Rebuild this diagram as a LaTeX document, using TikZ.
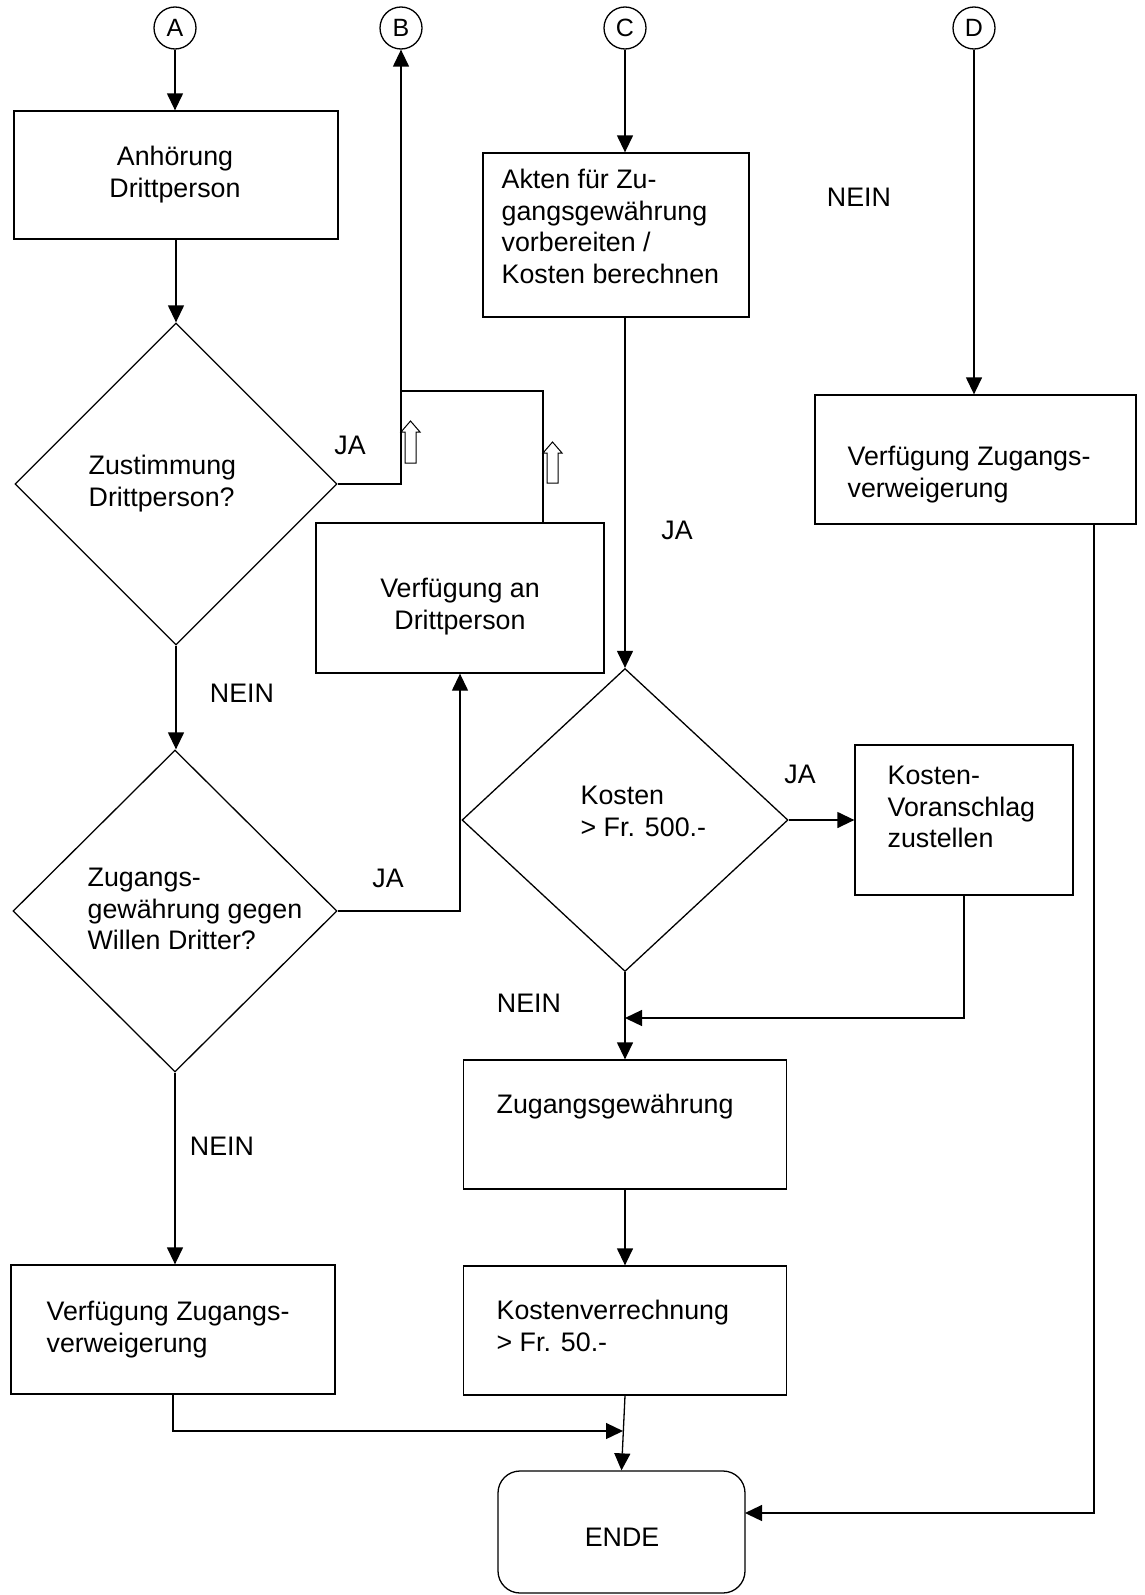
\documentclass[tikz,border=0pt]{standalone}
\usepackage{fontspec}
\setmainfont{Liberation Sans}
\usetikzlibrary{arrows.meta,shapes.geometric}
\begin{document}
\begin{tikzpicture}[x=1pt,y=-1pt,
  line width=1.3pt,
  every node/.style={font=\fontsize{26.8}{31.5}\selectfont},
  box/.style={draw, rectangle, inner sep=0pt},
  dia/.style={draw, diamond, inner sep=0pt},
  circ/.style={draw, circle, minimum size=42pt, inner sep=0pt, font=\fontsize{25}{28}\selectfont},
  txt/.style={inner sep=0pt, align=left, anchor=north west},
  ctxt/.style={inner sep=0pt, align=center, anchor=north},
  lbl/.style={inner sep=0pt, anchor=base},
  arr/.style={-{Triangle[length=17pt,width=16pt]}},
  hollow/.style={draw, line width=1pt}
]
\useasboundingbox (0,0) rectangle (1145,1595);

% connector circles
\node[circ] (A) at (175,28) {A};
\node[circ] (B) at (401,28) {B};
\node[circ] (C) at (625,28) {C};
\node[circ] (D) at (974,28) {D};

% shapes
\node[box, minimum width=324pt, minimum height=128pt] (anh) at (176,175) {};
\node[dia, minimum width=322pt, minimum height=322pt] (d1) at (176,484) {};
\node[box, minimum width=288pt, minimum height=150pt] (vad) at (460,598) {};
\node[dia, minimum width=324pt, minimum height=322pt] (d2) at (175,911) {};
\node[box, minimum width=266pt, minimum height=164pt] (akt) at (616,235) {};
\node[dia, minimum width=326pt, minimum height=303pt] (d3) at (625,820) {};
\node[box, minimum width=218pt, minimum height=150pt] (kv) at (964,820) {};
\node[box, minimum width=321pt, minimum height=129pt] (dv) at (975.5,459.5) {};
\node[box, minimum width=323pt, minimum height=129pt] (zg) at (625,1124.5) {};
\node[box, minimum width=323pt, minimum height=129pt] (kr) at (625,1330.5) {};
\node[box, minimum width=324pt, minimum height=129pt] (lv) at (173,1329.5) {};
\node[box, rounded corners=22pt, minimum width=247pt, minimum height=122pt] (ende) at (621.5,1532) {};

% texts
\node[ctxt] (tanh) at (175,143) {\strut Anhörung\\Drittperson};
\node[txt] (td1) at (88,452) {\strut Zustimmung\\Drittperson?};
\node[txt] (td2) at (87,864) {\strut Zugangs-\\gewährung gegen\\Willen Dritter?};
\node[ctxt] (tvad) at (460,575) {\strut Verfügung an\\Drittperson};
\node[txt] (takt) at (501,166) {\strut Akten für Zu-\\gangsgewährung\\vorbereiten /\\Kosten berechnen};
\node[txt] (tdv) at (847,443) {\strut Verfügung Zugangs-\\verweigerung};
\node[txt] (td3) at (580,782) {\strut Kosten\\> Fr. 500.-};
\node[txt] (tkv) at (887,762) {\strut Kosten-\\Voranschlag\\zustellen};
\node[txt] (tzg) at (496,1091) {\strut Zugangsgewährung};
\node[txt] (tkr) at (496,1297) {\strut Kostenverrechnung\\> Fr. 50.-};
\node[txt] (tlv) at (46,1298) {\strut Verfügung Zugangs-\\verweigerung};
\node[lbl] (tende) at (622,1546) {ENDE};

% labels
\node[lbl] (l1) at (350,454) {JA};
\node[lbl] (l2) at (859,206) {NEIN};
\node[lbl] (l3) at (677,539) {JA};
\node[lbl] (l4) at (242,702) {NEIN};
\node[lbl] (l5) at (388,887) {JA};
\node[lbl] (l6) at (800,783) {JA};
\node[lbl] (l7) at (529,1012) {NEIN};
\node[lbl] (l8) at (222,1155) {NEIN};

% helper coordinates
\coordinate (vadt) at (543,523);
\coordinate (jn) at (401,391);
\coordinate (m1) at (625,1018);
\coordinate (m2) at (623,1431);
\coordinate (dvb) at (1094,524);
\coordinate (ee) at (745,1513);

% connectors
\draw[arr] (A.south) -- (A.south |- anh.north);
\draw[arr] (anh.south) -- (anh.south |- d1.north);
\draw[arr] (d1.east) -| (B.south);
\draw (vadt) |- (jn);
\draw[arr] (d1.south) -- (d1.south |- d2.north);
\draw[arr] (d2.east) -| (vad.south);
\draw[arr] (d2.south) -- (d2.south |- lv.north);
\draw[arr] (C.south) -- (C.south |- akt.north);
\draw[arr] (C.south |- akt.south) -- (d3.north);
\draw[arr] (d3.east) -- (kv.west);
\draw[arr] (d3.south) -- (d3.south |- zg.north);
\draw[arr] (kv.south) |- (m1);
\draw[arr] (zg.south) -- (kr.north);
\draw[arr] (kr.south) -- (ende.north);
\draw[arr] (lv.south) |- (m2);
\draw[arr] (D.south) -- (D.south |- dv.north);
\draw[arr] (dvb) |- (ee);

% hollow block arrows
\draw[hollow] (410.5,421) -- (420,432) -- (416,432) -- (416,463) -- (405,463) -- (405,432) -- (401,432) -- cycle;
\draw[hollow] (552.5,442) -- (562,453) -- (558,453) -- (558,483) -- (547,483) -- (547,453) -- (543,453) -- cycle;
\end{tikzpicture}
\end{document}
